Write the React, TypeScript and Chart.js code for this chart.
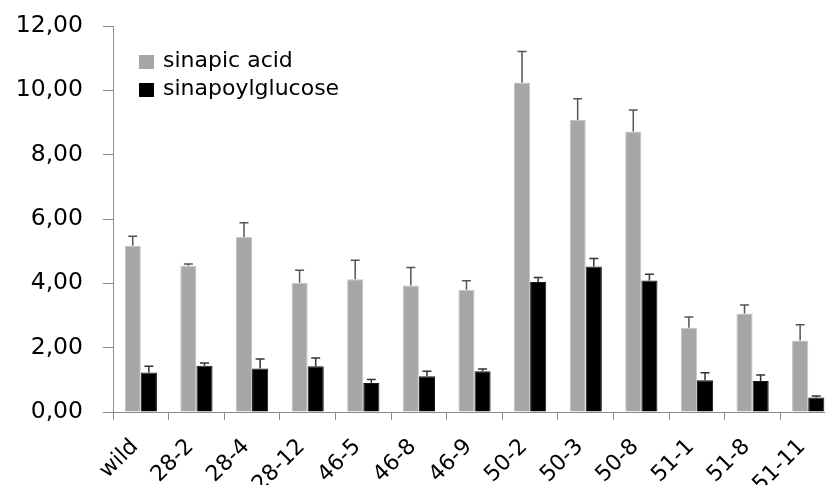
import React, { useEffect, useRef } from "react";
import { Chart, registerables } from "chart.js";

Chart.register(...registerables);

const categories = ["wild", "28-2", "28-4", "28-12", "46-5", "46-8", "46-9", "50-2", "50-3", "50-8", "51-1", "51-8", "51-11"];
const sinapicAcid = [5.17, 4.55, 5.44, 4.02, 4.13, 3.93, 3.8, 10.24, 9.08, 8.72, 2.62, 3.06, 2.22];
const sinapicAcidErr = [0.29, 0.05, 0.44, 0.39, 0.59, 0.56, 0.28, 0.97, 0.66, 0.67, 0.33, 0.27, 0.49];
const sinapoylglucose = [1.23, 1.44, 1.35, 1.42, 0.9, 1.11, 1.27, 4.04, 4.52, 4.09, 0.99, 0.96, 0.45];
const sinapoylglucoseErr = [0.19, 0.08, 0.3, 0.26, 0.11, 0.16, 0.07, 0.14, 0.25, 0.19, 0.23, 0.19, 0.05];
const yTickLabels = ["0,00", "2,00", "4,00", "6,00", "8,00", "10,00", "12,00"];
const seriesNames = ["sinapic acid", "sinapoylglucose"];

const FONT = "'DejaVu Sans', Verdana, sans-serif";

const errorBarPlugin = {
  id: "errorBars",
  afterDatasetsDraw(chart: any) {
    const ctx = chart.ctx;
    const yScale = chart.scales.y;
    chart.data.datasets.forEach((ds: any, di: number) => {
      const meta = chart.getDatasetMeta(di);
      const errs: number[] = ds.errors || [];
      meta.data.forEach((bar: any, i: number) => {
        const v = ds.data[i];
        const e = errs[i];
        if (v == null || e == null) return;
        const yTop = yScale.getPixelForValue(v + e);
        const x = bar.x;
        ctx.save();
        ctx.strokeStyle = ds.errorColor || "#444";
        ctx.lineWidth = 1.5;
        ctx.beginPath();
        ctx.moveTo(x, bar.y);
        ctx.lineTo(x, yTop);
        ctx.moveTo(x - 4.5, yTop);
        ctx.lineTo(x + 4.5, yTop);
        ctx.stroke();
        ctx.restore();
      });
    });
  },
};

const legendPlugin = {
  id: "customLegend",
  afterDraw(chart: any) {
    const ctx = chart.ctx;
    const x0 = 139;
    const y0 = 55;
    const rowH = 28;
    ctx.save();
    chart.data.datasets.forEach((ds: any, i: number) => {
      const y = y0 + i * rowH;
      ctx.fillStyle = ds.backgroundColor;
      ctx.fillRect(x0, y, 15, 14);
      ctx.fillStyle = "#000";
      ctx.font = `22px ${FONT}`;
      ctx.textBaseline = "middle";
      ctx.textAlign = "left";
      ctx.fillText(ds.label, x0 + 24, y + 6);
    });
    ctx.restore();
  },
};

export default function App() {
  const canvasRef = useRef<HTMLCanvasElement | null>(null);

  useEffect(() => {
    if (!canvasRef.current) return;
    const chart = new Chart(canvasRef.current, {
      type: "bar",
      data: {
        labels: categories,
        datasets: [
          {
            label: seriesNames[0],
            data: sinapicAcid,
            errors: sinapicAcidErr,
            errorColor: "#555",
            backgroundColor: "#a6a6a6",
            borderColor: "#c4c4c4",
            borderWidth: 1,
            categoryPercentage: 0.58,
            barPercentage: 1.0,
          } as any,
          {
            label: seriesNames[1],
            data: sinapoylglucose,
            errors: sinapoylglucoseErr,
            errorColor: "#333",
            backgroundColor: "#000000",
            borderColor: "#1a1a1a",
            borderWidth: 1,
            categoryPercentage: 0.58,
            barPercentage: 1.0,
          } as any,
        ],
      },
      options: {
        animation: false,
        responsive: true,
        maintainAspectRatio: false,
        layout: { padding: { left: 0, right: 14, top: 26, bottom: 0 } },
        plugins: {
          legend: { display: false },
          tooltip: { enabled: false },
        },
        scales: {
          x: {
            grid: {
              display: true,
              drawOnChartArea: false,
              drawTicks: true,
              tickLength: 8,
              offset: true,
              color: "#8c8c8c",
              lineWidth: 1,
            },
            border: { display: true, color: "#8c8c8c", width: 1 },
            ticks: {
              autoSkip: false,
              maxRotation: 45,
              minRotation: 45,
              padding: 14,
              labelOffset: -6,
              color: "#000",
              font: { family: FONT, size: 22 },
            },
            afterFit(scale: any) {
              scale.height = 73;
              scale.paddingLeft = 0;
              scale.paddingRight = 0;
            },
          },
          y: {
            min: 0,
            max: 12,
            ticks: {
              stepSize: 2,
              padding: 20,
              color: "#000",
              font: { family: FONT, size: 23.5 },
              callback: (value: any) => yTickLabels[Math.round(Number(value) / 2)] ?? "",
            },
            grid: {
              display: true,
              drawOnChartArea: false,
              drawTicks: true,
              tickLength: 10,
              color: "#8c8c8c",
            },
            border: { display: true, color: "#8c8c8c", width: 1 },
            afterFit(scale: any) {
              scale.width = 113;
              scale.paddingTop = 0;
              scale.paddingBottom = 0;
            },
          },
        },
      },
      plugins: [errorBarPlugin, legendPlugin],
    });
    return () => chart.destroy();
  }, []);

  return (
    <div style={{ position: "fixed", left: 0, top: 0, width: 825, height: 485, overflow: "hidden", background: "#fff" }}>
      <div style={{ position: "relative", width: 850, height: 485 }}>
        <canvas ref={canvasRef} />
      </div>
    </div>
  );
}
